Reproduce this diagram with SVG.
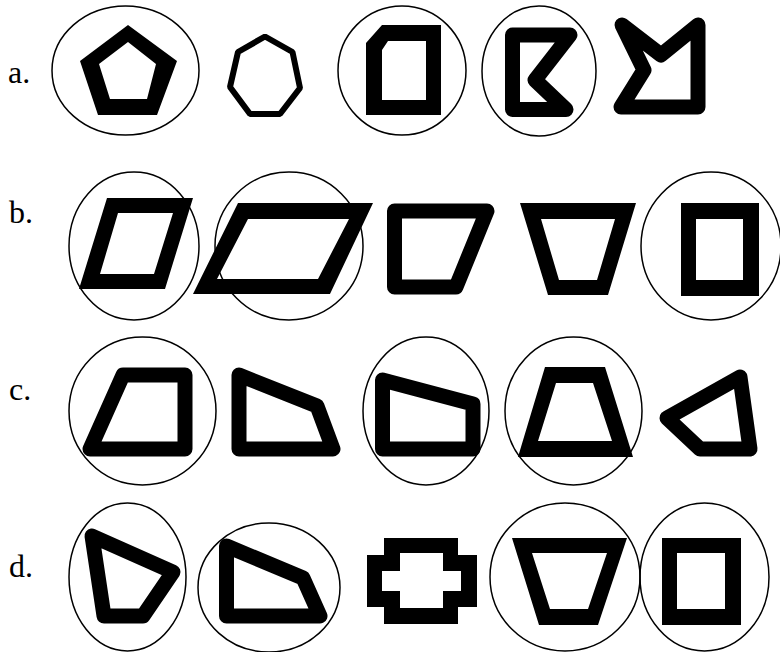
<svg xmlns="http://www.w3.org/2000/svg" width="780" height="652" viewBox="0 0 780 652">
<style>
.lbl{font-family:"Liberation Serif","Times New Roman",serif;font-size:32px;fill:#000}
.ring{fill:none;stroke:#000;stroke-width:1.5}
.solid{fill:#000;fill-rule:evenodd;stroke:none}
.rnd{fill:none;stroke:#000;stroke-width:15;stroke-linejoin:round}
.thin{fill:none;stroke:#000;stroke-width:6;stroke-linejoin:bevel}
</style>
<rect width="780" height="652" fill="#fff"/>
<g id="labels">
<text class="lbl" x="8" y="83">a.</text>
<text class="lbl" x="9" y="223">b.</text>
<text class="lbl" x="9" y="400">c.</text>
<text class="lbl" x="9" y="577">d.</text>
</g>
<g id="row-a">
<g id="a1"><ellipse class="ring" cx="125.5" cy="70.5" rx="73.5" ry="64.5"/>
<path class="solid" d="M128,25 L177,61 L157,115 L98,115 L80,61 Z M128,42 L99,64 L110,99 L147,99 L156,64 Z"/></g>
<g id="a2"><polygon class="thin" points="265,36.5 292.5,52 300,88 280,114 250,114 230,87 238,52"/></g>
<g id="a3"><ellipse class="ring" cx="402" cy="70.5" rx="64" ry="64.5"/>
<path class="solid" d="M382,25 L441,25 L441,115 L366,115 L366,43 Z M388,41 L382,50 L382,100 L426,100 L426,41 Z"/></g>
<g id="a4"><ellipse class="ring" cx="539" cy="71" rx="57" ry="65"/>
<polygon class="rnd" points="512.5,35 570,35 535,80 566,109.5 512.5,109.5"/></g>
<g id="a5"><polygon class="rnd" points="622,25 661,55 698,25 698,107 621,107 644,70"/></g>
</g>
<g id="row-b">
<g id="b1"><ellipse class="ring" cx="134" cy="246" rx="65" ry="74"/>
<path class="solid" d="M107,198 L193,198 L165,289 L79,289 Z M118,213 L100,274 L154,274 L173,213 Z"/></g>
<g id="b2"><ellipse class="ring" cx="289" cy="246" rx="74" ry="74"/>
<path class="solid" d="M238,203 L373,203 L330,294 L193,294 Z M248,219 L217,279 L318,279 L349,219 Z"/></g>
<g id="b3"><polygon class="rnd" points="394.5,211 487,211 456,287 394.5,287"/></g>
<g id="b4"><path class="solid" d="M520,203 L636,203 L608,295 L548,295 Z M541,219 L559,280 L597,280 L615,219 Z"/></g>
<g id="b5"><ellipse class="ring" cx="711" cy="246" rx="70" ry="74"/>
<path class="solid" d="M681,203 H759 V296 H681 Z M696,219 V280 H743 V219 Z"/></g>
</g>
<g id="row-c">
<g id="c1"><ellipse class="ring" cx="142.5" cy="411" rx="73.5" ry="74"/>
<polygon class="rnd" points="123,375 185,375 185,449 90,449"/></g>
<g id="c2"><polygon class="rnd" points="239,375 317,406 333,449 239,449"/></g>
<g id="c3"><ellipse class="ring" cx="426" cy="411" rx="63" ry="74"/>
<polygon class="rnd" points="382.5,380 473,404 473,449 382.5,449"/></g>
<g id="c4"><ellipse class="ring" cx="573.5" cy="411" rx="68.5" ry="74"/>
<path class="solid" d="M545,367 L605,367 L633,457 L518,457 Z M556,383 L538,441 L612,441 L593,383 Z"/></g>
<g id="c5"><polygon class="rnd" points="740,377 750,449 700,449 667,418"/></g>
</g>
<g id="row-d">
<g id="d1"><ellipse class="ring" cx="127.5" cy="577" rx="58.5" ry="74"/>
<polygon class="rnd" points="92,536 173,572 143,616 104,616"/></g>
<g id="d2"><ellipse class="ring" cx="269" cy="587.5" rx="71" ry="64.5"/>
<polygon class="rnd" points="226.5,546 303,578 320,616 226.5,616"/></g>
<g id="d3"><path class="solid" d="M384,538 H458 V555 H477 V607 H458 V624 H384 V607 H367 V555 H384 Z M400,553 V571 H382 V591 H400 V608 H443 V591 H461 V571 H443 V553 Z"/></g>
<g id="d4"><ellipse class="ring" cx="565" cy="577" rx="75" ry="74"/>
<path class="solid" d="M512,538 L627,538 L598,625 L539,625 Z M532,553 L550,609 L588,609 L607,553 Z"/></g>
<g id="d5"><ellipse class="ring" cx="704.5" cy="577" rx="64.5" ry="74"/>
<path class="solid" d="M662,538 H741 V625 H662 Z M677,553 V609 H725 V553 Z"/></g>
</g>
<g id="connectors"/>
</svg>
